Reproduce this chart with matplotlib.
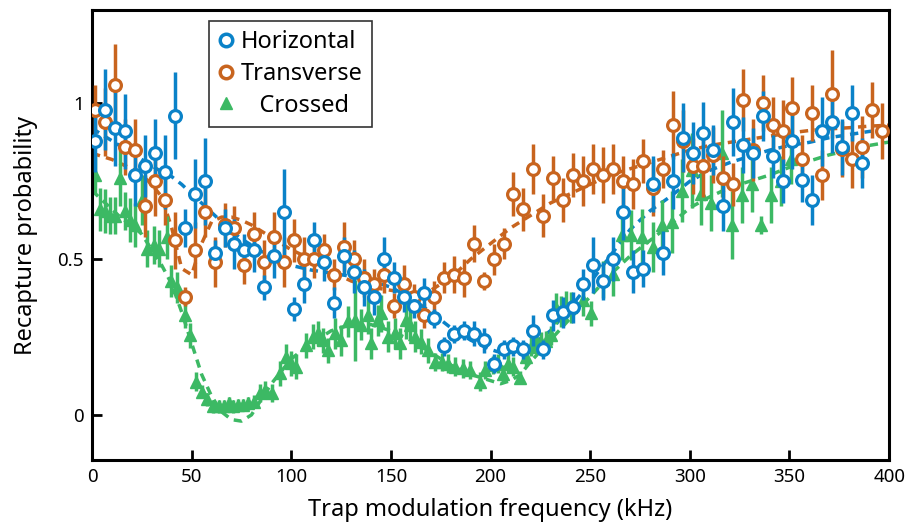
import numpy as np
import matplotlib
matplotlib.use("Agg")
import matplotlib.pyplot as plt
from matplotlib.lines import Line2D

plt.rcParams["font.family"] = ["Noto Sans", "DejaVu Sans"]

# ------------------------------
# Data
# ------------------------------
freq_circ = [1.5, 6.5, 11.5, 16.5, 21.5, 26.5, 31.5, 36.5, 41.5, 46.5,
             51.5, 56.5, 61.5, 66.5, 71.5, 76.5, 81.5, 86.5, 91.5, 96.5,
             101.5, 106.5, 111.5, 116.5, 121.5, 126.5, 131.5, 136.5, 141.5, 146.5,
             151.5, 156.5, 161.5, 166.5, 171.5, 176.5, 181.5, 186.5, 191.5, 196.5,
             201.5, 206.5, 211.5, 216.5, 221.5, 226.5, 231.5, 236.5, 241.5, 246.5,
             251.5, 256.5, 261.5, 266.5, 271.5, 276.5, 281.5, 286.5, 291.5, 296.5,
             301.5, 306.5, 311.5, 316.5, 321.5, 326.5, 331.5, 336.5, 341.5, 346.5,
             351.5, 356.5, 361.5, 366.5, 371.5, 376.5, 381.5, 386.5, 391.5, 396.5]

horiz_y = [0.88, 0.98, 0.92, 0.91, 0.77, 0.80, 0.84, 0.78, 0.96, 0.60,
           0.71, 0.75, 0.52, 0.60, 0.55, 0.53, 0.53, 0.41, 0.51, 0.65,
           0.34, 0.42, 0.56, 0.49, 0.36, 0.51, 0.46, 0.41, 0.38, 0.50,
           0.44, 0.38, 0.35, 0.39, 0.31, 0.22, 0.26, 0.27, 0.26, 0.24,
           0.165, 0.21, 0.22, 0.21, 0.27, 0.21, 0.32, 0.33, 0.345, 0.42,
           0.48, 0.43, 0.50, 0.65, 0.46, 0.47, 0.74, 0.52, 0.75, 0.89,
           0.84, 0.905, 0.85, 0.67, 0.94, 0.865, 0.84, 0.96, 0.83, 0.75,
           0.88, 0.755, 0.69, 0.91, 0.94, 0.86, 0.97, 0.81]
horiz_err = [0.10, 0.13, 0.12, 0.12, 0.10, 0.10, 0.11, 0.12, 0.14, 0.06,
             0.11, 0.14, 0.04, 0.06, 0.08, 0.05, 0.07, 0.04, 0.07, 0.14,
             0.04, 0.06, 0.06, 0.06, 0.05, 0.06, 0.07, 0.06, 0.06, 0.07,
             0.05, 0.05, 0.04, 0.05, 0.03, 0.03, 0.03, 0.03, 0.04, 0.04,
             0.03, 0.03, 0.03, 0.03, 0.05, 0.03, 0.05, 0.05, 0.05, 0.05,
             0.09, 0.06, 0.07, 0.09, 0.07, 0.06, 0.09, 0.07, 0.09, 0.11,
             0.10, 0.10, 0.08, 0.08, 0.11, 0.09, 0.08, 0.08, 0.07, 0.07,
             0.09, 0.07, 0.08, 0.11, 0.10, 0.09, 0.09, 0.08]

trans_y = [0.98, 0.94, 1.06, 0.86, 0.85, 0.67, 0.75, 0.69, 0.56, 0.38,
           0.53, 0.65, 0.49, 0.61, 0.60, 0.48, 0.58, 0.49, 0.57, 0.49,
           0.56, 0.50, 0.50, 0.53, 0.45, 0.54, 0.50, 0.44, 0.42, 0.45,
           0.35, 0.42, 0.38, 0.32, 0.38, 0.44, 0.45, 0.44, 0.55, 0.43,
           0.50, 0.55, 0.71, 0.66, 0.79, 0.64, 0.76, 0.69, 0.77, 0.75,
           0.79, 0.77, 0.79, 0.75, 0.74, 0.815, 0.73, 0.79, 0.93, 0.88,
           0.80, 0.80, 0.835, 0.76, 0.74, 1.01, 0.85, 1.00, 0.93, 0.91,
           0.985, 0.82, 0.97, 0.77, 1.03, 0.855, 0.82, 0.86, 0.98, 0.91]
trans_err = [0.08, 0.11, 0.13, 0.09, 0.10, 0.10, 0.11, 0.08, 0.09, 0.03,
             0.09, 0.08, 0.08, 0.07, 0.07, 0.06, 0.07, 0.07, 0.08, 0.08,
             0.07, 0.07, 0.06, 0.05, 0.05, 0.08, 0.06, 0.06, 0.05, 0.06,
             0.04, 0.06, 0.04, 0.04, 0.05, 0.05, 0.06, 0.06, 0.06, 0.03,
             0.05, 0.05, 0.07, 0.07, 0.08, 0.07, 0.07, 0.07, 0.07, 0.08,
             0.08, 0.09, 0.08, 0.08, 0.08, 0.07, 0.09, 0.06, 0.11, 0.10,
             0.09, 0.10, 0.09, 0.07, 0.07, 0.10, 0.10, 0.09, 0.09, 0.10,
             0.10, 0.08, 0.09, 0.08, 0.14, 0.09, 0.09, 0.10, 0.09, 0.09]

freq_cross = [1.5, 4, 6.5, 9, 11.5, 14, 16.5, 19, 21.5, 25.3,
              27.8, 31.2, 33.7, 37.5, 39.5, 42.5, 46.6, 49.2, 52.4, 55.4,
              57.9, 60.8, 63.5, 66.3, 68.5, 70.8, 73.5, 75.9, 78.5, 81.4,
              84.3, 86.9, 90.3, 94.3, 97.3, 99.8,
              102.5, 107.5, 110.9, 113.4, 115.9, 118.4, 121.8, 125.1, 128.5, 131.8,
              135.2, 138.5, 140.2, 143.6, 145.2, 148.6, 152, 154.4, 157.8, 159.5,
              162, 165.3, 168.7, 172, 175.4, 178.7, 182, 186.3, 189.6, 194.6, 197.2,
              201.2, 203.7, 206.2, 208.7, 211.2, 214.6, 218, 220.4, 223, 225.5,
              228, 230.5, 233, 235.5, 238, 240.5, 246.4, 250.6, 256.4, 261.5,
              265.7, 270.7, 275.8, 281.3, 285.8, 290.8, 295.9, 301,
              305.7, 310.7, 316, 321, 326, 331, 335.7, 340.8, 345.8, 350.8]
cross_y = [0.77, 0.66, 0.655, 0.64, 0.64, 0.76, 0.655, 0.625, 0.61, 0.69,
           0.534, 0.545, 0.534, 0.57, 0.43, 0.41, 0.32, 0.255, 0.107, 0.075,
           0.05, 0.027, 0.027, 0.027, 0.037, 0.027, 0.032, 0.032, 0.037, 0.043,
           0.07, 0.08, 0.07, 0.133, 0.187, 0.166,
           0.155, 0.224, 0.251, 0.262, 0.24, 0.208, 0.262, 0.24, 0.30, 0.304,
           0.29, 0.32, 0.23, 0.304, 0.326, 0.251, 0.262, 0.23, 0.304, 0.288,
           0.251, 0.235, 0.208, 0.17, 0.17, 0.165, 0.155, 0.15, 0.144, 0.107, 0.144,
           0.16, 0.165, 0.131, 0.165, 0.155, 0.12, 0.187, 0.219, 0.24, 0.235,
           0.238, 0.256, 0.342, 0.331, 0.349, 0.345, 0.368, 0.326, 0.435, 0.452,
           0.577, 0.577, 0.571, 0.539, 0.61, 0.62, 0.72, 0.785,
           0.71, 0.68, 0.84, 0.61, 0.705, 0.74, 0.61, 0.705, 0.75, 0.82]
cross_err = [0.06, 0.07, 0.07, 0.06, 0.06, 0.09, 0.06, 0.07, 0.07, 0.08,
             0.06, 0.06, 0.06, 0.07, 0.05, 0.05, 0.04, 0.04, 0.03, 0.02,
             0.02, 0.02, 0.02, 0.02, 0.02, 0.02, 0.02, 0.02, 0.02, 0.02,
             0.03, 0.03, 0.03, 0.04, 0.04, 0.04,
             0.04, 0.04, 0.04, 0.04, 0.04, 0.04, 0.05, 0.05, 0.05, 0.13,
             0.05, 0.06, 0.05, 0.05, 0.06, 0.05, 0.05, 0.05, 0.06, 0.05,
             0.05, 0.04, 0.04, 0.03, 0.03, 0.03, 0.03, 0.03, 0.03, 0.03, 0.03,
             0.03, 0.03, 0.03, 0.03, 0.03, 0.02, 0.03, 0.03, 0.03, 0.03,
             0.03, 0.03, 0.05, 0.05, 0.05, 0.05, 0.05, 0.04, 0.06, 0.07,
             0.08, 0.08, 0.09, 0.08, 0.08, 0.10, 0.10, 0.12,
             0.10, 0.09, 0.14, 0.11, 0.09, 0.09, 0.03, 0.09, 0.08, 0.08]

# fit curves (dashed)
fit_x = [0, 5, 10, 15, 20, 25, 30, 35, 40, 45,
         50, 55, 60, 65, 70, 75, 80, 85, 90, 95,
         100, 110, 120, 130, 140, 150, 160, 170, 180, 190,
         200, 205, 210, 215, 220, 230, 240, 250, 260, 270,
         280, 290, 300, 310, 320, 330, 340, 350, 360, 370,
         380, 390, 400]
horiz_fit = [0.92, 0.90, 0.88, 0.86, 0.84, 0.82, 0.80, 0.78, 0.765, 0.74,
             0.71, 0.68, 0.65, 0.62, 0.59, 0.565, 0.545, 0.525, 0.505, 0.49,
             0.48, 0.465, 0.455, 0.445, 0.43, 0.41, 0.375, 0.33, 0.28, 0.24,
             0.21, 0.20, 0.20, 0.205, 0.22, 0.27, 0.345, 0.425, 0.51, 0.595,
             0.655, 0.70, 0.75, 0.785, 0.81, 0.83, 0.85, 0.865, 0.875, 0.89,
             0.90, 0.91, 0.915]
trans_fit = [0.84, 0.83, 0.82, 0.805, 0.79, 0.77, 0.74, 0.70, 0.60, 0.47,
             0.45, 0.55, 0.62, 0.635, 0.635, 0.625, 0.61, 0.59, 0.57, 0.55,
             0.53, 0.50, 0.46, 0.43, 0.41, 0.40, 0.39, 0.40, 0.44, 0.50,
             0.55, 0.575, 0.60, 0.62, 0.64, 0.68, 0.71, 0.74, 0.77, 0.79,
             0.81, 0.83, 0.85, 0.865, 0.875, 0.885, 0.895, 0.905, 0.913, 0.918,
             0.922, 0.927, 0.93]
cross_fit = [0.72, 0.69, 0.66, 0.63, 0.61, 0.58, 0.53, 0.48, 0.42, 0.33,
             0.23, 0.13, 0.06, 0.01, -0.015, -0.02, 0.0, 0.05, 0.10, 0.14,
             0.18, 0.23, 0.27, 0.29, 0.29, 0.27, 0.24, 0.20, 0.16, 0.13,
             0.11, 0.10, 0.11, 0.13, 0.17, 0.24, 0.31, 0.38, 0.45, 0.51,
             0.56, 0.61, 0.665, 0.70, 0.73, 0.75, 0.77, 0.795, 0.815, 0.835,
             0.85, 0.865, 0.876]

c_blue = "#0a82c8"
c_orange = "#c8641e"
c_green = "#3cb964"

fig, ax = plt.subplots(figsize=(9.11, 5.24), dpi=100)
fig.subplots_adjust(left=0.101, right=0.976, bottom=0.122, top=0.981)

dash = (2.4, 1.8)
ax.plot(fit_x, cross_fit, color=c_green, lw=2.5, dashes=dash, zorder=1)
ax.plot(fit_x, trans_fit, color=c_orange, lw=2.5, dashes=dash, zorder=1)
ax.plot(fit_x, horiz_fit, color=c_blue, lw=2.5, dashes=dash, zorder=1)

ax.errorbar(freq_cross, cross_y, yerr=cross_err, fmt="^", color=c_green,
            ms=8, elinewidth=2.5, capsize=0, zorder=2)
ax.errorbar(freq_circ, trans_y, yerr=trans_err, fmt="o", color=c_orange,
            mfc="white", mec=c_orange, ms=8.5, mew=2.3, elinewidth=2.5,
            capsize=0, zorder=3)
ax.errorbar(freq_circ[:len(horiz_y)], horiz_y, yerr=horiz_err, fmt="o",
            color=c_blue, mfc="white", mec=c_blue, ms=8.5, mew=2.3,
            elinewidth=2.5, capsize=0, zorder=3)

ax.set_xlim(0, 400)
ax.set_ylim(-0.145, 1.30)
ax.set_xticks(range(0, 401, 50))
ax.set_yticks([0, 0.5, 1])
ax.set_yticklabels(["0", "0.5", "1"])
ax.tick_params(direction="in", length=7, width=2, labelsize=13.5, pad=6)
for sp in ax.spines.values():
    sp.set_linewidth(2.2)

ax.set_xlabel("Trap modulation frequency (kHz)", fontsize=17, labelpad=8)
ax.set_ylabel("Recapture probability", fontsize=17, labelpad=14)

handles = [
    Line2D([], [], ls="none", marker="o", mfc="white", mec=c_blue, ms=9, mew=2.5),
    Line2D([], [], ls="none", marker="o", mfc="white", mec=c_orange, ms=9, mew=2.5),
    Line2D([], [], ls="none", marker="^", color=c_green, ms=8.5),
]
leg = ax.legend(handles, ["Horizontal", "Transverse", "   Crossed"],
                loc="upper left", bbox_to_anchor=(0.141, 0.986), fontsize=17,
                frameon=True, fancybox=False, edgecolor="black",
                handlelength=0.6, handletextpad=0.35, borderpad=0.4,
                labelspacing=0.32, borderaxespad=0.2)
leg.get_frame().set_linewidth(1.2)

fig.savefig("out.png", dpi=100)
